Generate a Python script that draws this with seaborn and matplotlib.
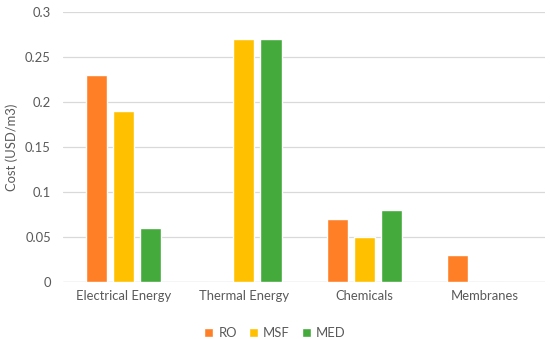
import numpy as np
import pandas as pd
import seaborn as sns
import matplotlib.pyplot as plt

categories = ["Electrical Energy", "Thermal Energy", "Chemicals", "Membranes"]
series     = ["RO", "MSF", "MED"]
ro_cost    = [0.23, 0.0, 0.07, 0.03]
msf_cost   = [0.19, 0.27, 0.05, 0.0]
med_cost   = [0.06, 0.27, 0.08, 0.0]
y_ticks    = [0, 0.05, 0.1, 0.15, 0.2, 0.25, 0.3]
y_labels   = ["0", "0.05", "0.1", "0.15", "0.2", "0.25", "0.3"]

df = pd.DataFrame({
    "category": categories * 3,
    "series": np.repeat(series, len(categories)),
    "cost": ro_cost + msf_cost + med_cost,
})

sns.set_theme(style="white")
plt.rcParams["font.family"] = ["Lato", "DejaVu Sans"]
grey = "#595959"
colors = {"RO": "#FF7F27", "MSF": "#FFC000", "MED": "#43AA3B"}
fs = 9.4

fig = plt.figure(figsize=(5.5, 3.39), dpi=100)
ax = fig.add_axes([0.115, 0.168, 0.876, 0.797])
sns.barplot(data=df, x="category", y="cost", hue="series", palette=colors,
            width=0.675, gap=0.22, saturation=1, ax=ax, zorder=3)

ax.set_ylim(0, 0.3)
ax.set_yticks(y_ticks)
ax.set_yticklabels(y_labels)
ax.set_xlim(-0.5, 3.5)
ax.yaxis.grid(True, color="#D9D9D9", linewidth=0.9, zorder=0)
ax.set_axisbelow(True)
for s in ax.spines.values():
    s.set_visible(False)
ax.axhline(0, color="#D9D9D9", linewidth=0.9, zorder=1)
ax.tick_params(axis="both", length=0, labelsize=fs, labelcolor=grey, pad=6)
ax.tick_params(axis="y", pad=9)
ax.set_xlabel("")
ax.set_ylabel("Cost (USD/m3)", fontsize=fs, color=grey, labelpad=5)

ax.legend(loc="lower center", bbox_to_anchor=(0.5, -0.005), bbox_transform=fig.transFigure,
          ncol=3, frameon=False, borderaxespad=0.0, borderpad=0.1,
          fontsize=fs, labelcolor=grey, handlelength=0.7, handleheight=0.7,
          handletextpad=0.4, columnspacing=0.9)

fig.savefig("out.png", dpi=100)
